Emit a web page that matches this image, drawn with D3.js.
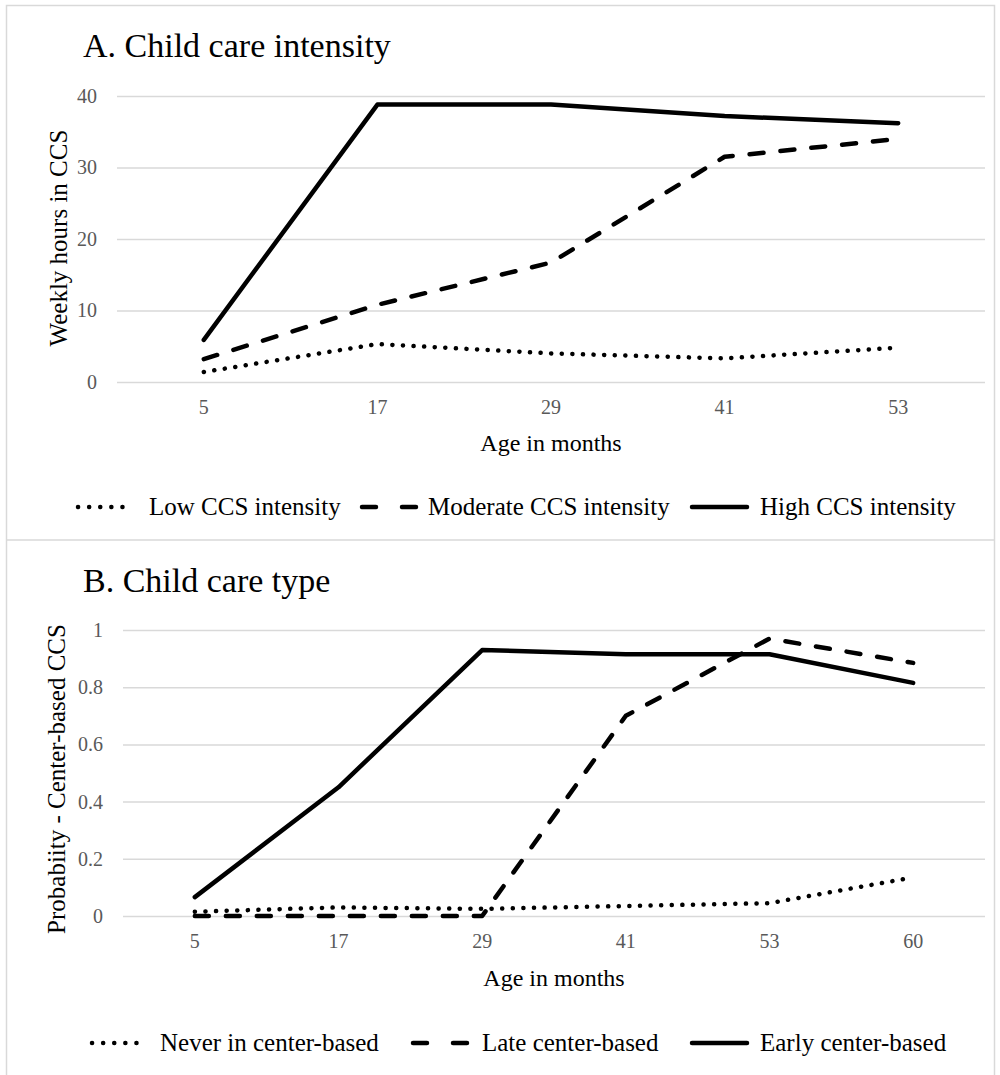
<!DOCTYPE html>
<html>
<head>
<meta charset="utf-8">
<script src="https://cdn.jsdelivr.net/npm/d3@7"></script>
<style>
  body { margin: 0; background: #fff; }
  svg { display: block; font-family: "Liberation Serif", "Times New Roman", serif; }
</style>
</head>
<body>
<svg id="chart" width="1000" height="1075"></svg>
<script>
// Panel A data
const ageA = ["5", "17", "29", "41", "53"];
const lowA = [1.4, 5.3, 4.0, 3.3, 4.8];
const moderateA = [3.2, 10.8, 16.7, 31.5, 34.0];
const highA = [5.9, 38.8, 38.8, 37.2, 36.2];
const ticksA = [0, 10, 20, 30, 40];
const namesA = ["Low CCS intensity", "Moderate CCS intensity", "High CCS intensity"];

// Panel B data
const ageB = ["5", "17", "29", "41", "53", "60"];
const neverB = [0.015, 0.03, 0.025, 0.035, 0.045, 0.135];
const lateB = [0.0, 0.0, 0.0, 0.70, 0.97, 0.885];
const earlyB = [0.066, 0.45, 0.93, 0.915, 0.915, 0.815];
const ticksB = [0, 0.2, 0.4, 0.6, 0.8, 1];
const namesB = ["Never in center-based", "Late center-based", "Early center-based"];

const svg = d3.select("#chart");

// line styles: dotted, dashed, solid
const styles = [
  { dash: "0.1 10.5", width: 4.5 },
  { dash: "14 17", width: 4.5 },
  { dash: null, width: 4.5 }
];
const legendDash = ["0.1 11", "14 26", null];

// outer frame and separator
svg.append("rect")
  .attr("x", 6.5).attr("y", 5.5)
  .attr("width", 988).attr("height", 1080)
  .attr("fill", "none").attr("stroke", "#d9d9d9").attr("stroke-width", 1.5);
svg.append("line")
  .attr("x1", 6).attr("x2", 995).attr("y1", 540).attr("y2", 540)
  .attr("stroke", "#d9d9d9").attr("stroke-width", 1.5);

function drawPanel(p) {
  const x = d3.scaleBand().domain(p.cats).range([p.left, p.right]);
  const y = d3.scaleLinear().domain([p.ticks[0], p.ticks[p.ticks.length - 1]]).range([p.bottom, p.top]);
  const g = svg.append("g");

  // title
  g.append("text")
    .attr("x", p.titleX).attr("y", p.titleY)
    .attr("font-size", 34).attr("fill", "#000")
    .text(p.title);

  // gridlines + y labels
  const yAxis = g.append("g")
    .attr("transform", `translate(${p.left},0)`)
    .call(d3.axisLeft(y).tickValues(p.ticks).tickSize(-(p.right - p.left)).tickPadding(20).tickFormat(d3.format("")));
  yAxis.select(".domain").remove();
  yAxis.selectAll(".tick line").attr("stroke", "#d9d9d9").attr("stroke-width", 1.5);
  yAxis.selectAll(".tick text")
    .attr("font-size", 20).attr("fill", "#595959")
    .attr("font-family", "Liberation Serif");

  // x labels
  const xAxis = g.append("g")
    .attr("transform", `translate(0,${p.bottom})`)
    .call(d3.axisBottom(x).tickSize(0).tickPadding(18));
  xAxis.select(".domain").remove();
  xAxis.selectAll(".tick text")
    .attr("font-size", 20).attr("fill", "#595959")
    .attr("font-family", "Liberation Serif");

  // axis titles
  g.append("text")
    .attr("x", (p.left + p.right) / 2).attr("y", p.xTitleY)
    .attr("text-anchor", "middle").attr("font-size", 24)
    .text("Age in months");
  g.append("text")
    .attr("transform", `translate(${p.yTitleX},${p.yTitleY}) rotate(-90)`)
    .attr("text-anchor", "middle").attr("font-size", 25)
    .text(p.yTitle);

  // lines
  const line = d3.line()
    .x((d, i) => x(p.cats[i]) + x.bandwidth() / 2)
    .y(d => y(d));
  p.series.forEach((s, i) => {
    g.append("path")
      .datum(s)
      .attr("fill", "none")
      .attr("stroke", "#000")
      .attr("stroke-width", styles[i].width)
      .attr("stroke-linecap", "round")
      .attr("stroke-linejoin", "round")
      .attr("stroke-dasharray", styles[i].dash)
      .attr("d", line);
  });

  // legend
  p.names.forEach((name, i) => {
    const lx = p.legendX[i];
    g.append("line")
      .attr("x1", lx).attr("x2", lx + 55)
      .attr("y1", p.legendY - 8).attr("y2", p.legendY - 8)
      .attr("stroke", "#000").attr("stroke-width", 4.5)
      .attr("stroke-linecap", "round")
      .attr("stroke-dasharray", legendDash[i]);
    g.append("text")
      .attr("x", p.legendTextX[i]).attr("y", p.legendY)
      .attr("font-size", 25)
      .text(name);
  });
}

drawPanel({
  title: "A. Child care intensity", titleX: 83, titleY: 57,
  cats: ageA, ticks: ticksA, series: [lowA, moderateA, highA], names: namesA,
  left: 117, right: 985, top: 96, bottom: 382,
  xTitleY: 451, yTitle: "Weekly hours in CCS", yTitleX: 67, yTitleY: 238,
  legendY: 515, legendX: [78, 362, 692], legendTextX: [149, 428, 760]
});

drawPanel({
  title: "B. Child care type", titleX: 83, titleY: 592,
  cats: ageB, ticks: ticksB, series: [neverB, lateB, earlyB], names: namesB,
  left: 123, right: 985, top: 630, bottom: 916,
  xTitleY: 986, yTitle: "Probabiity - Center-based CCS", yTitleX: 65, yTitleY: 779,
  legendY: 1051, legendX: [92, 413, 692], legendTextX: [160, 482, 760]
});
</script>
</body>
</html>
